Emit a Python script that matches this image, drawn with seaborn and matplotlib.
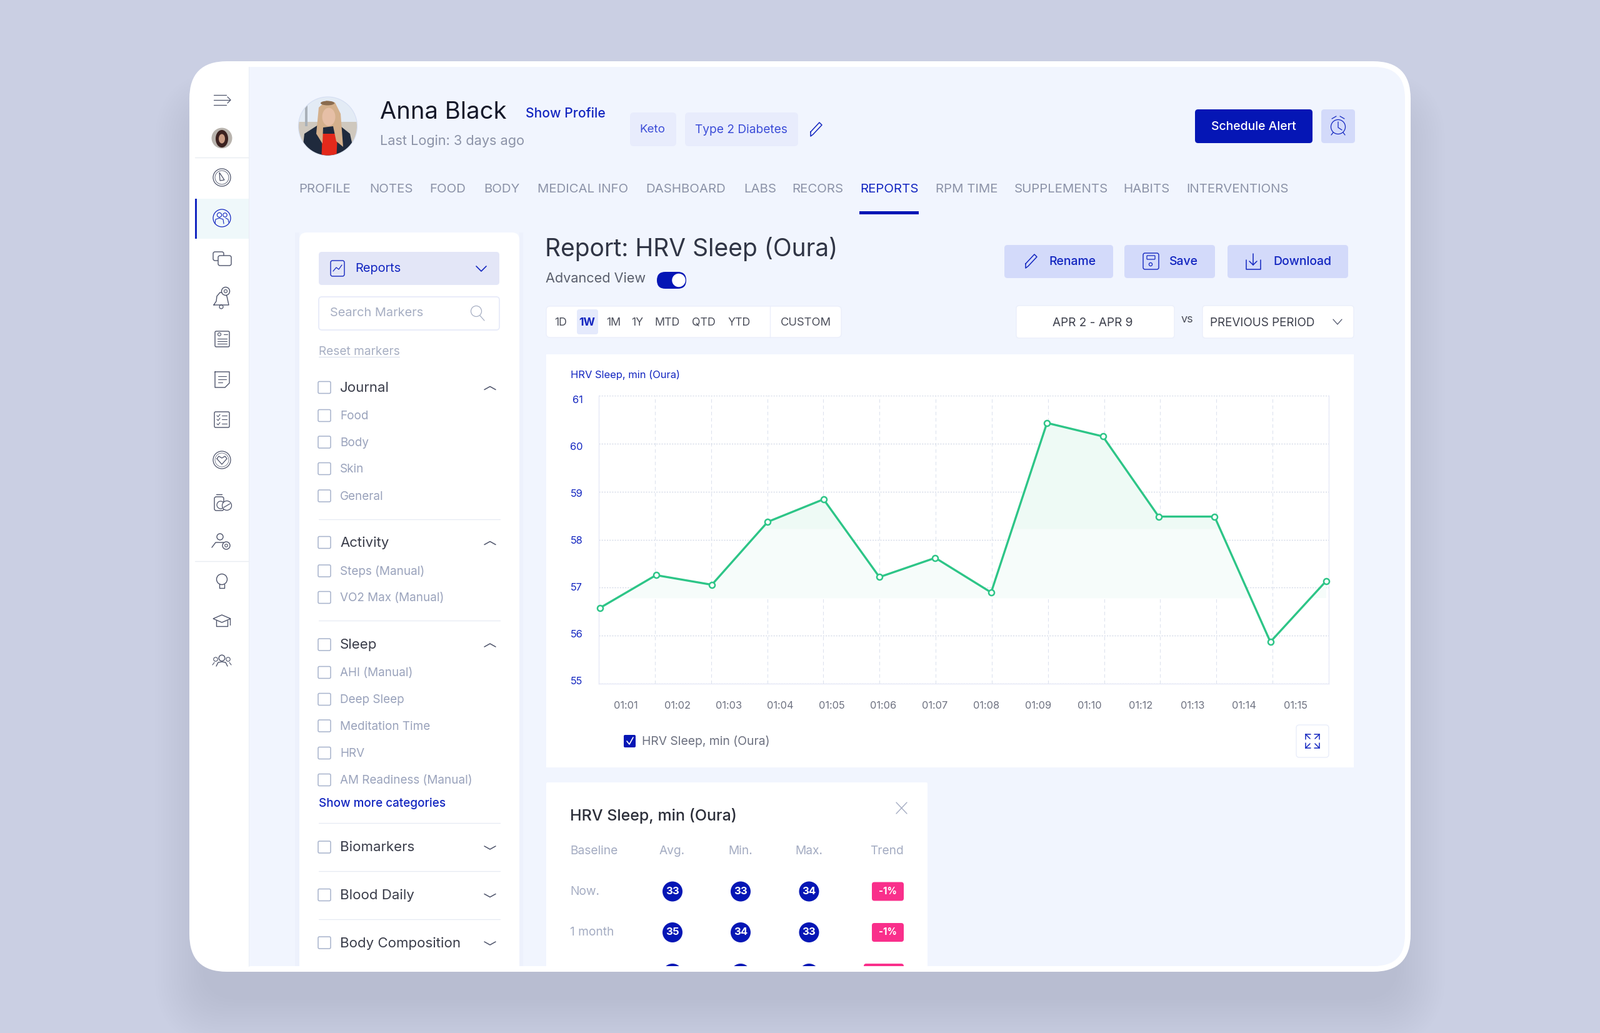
#!/usr/bin/env python3
# -*- coding: utf-8 -*-
# HRV report screen, chart drawn with seaborn and the app around it with patches

import numpy as np
import pandas as pd
import matplotlib
matplotlib.use("Agg")
import matplotlib.pyplot as plt
from matplotlib.patches import FancyBboxPatch, Circle, Ellipse, Polygon, Rectangle
import seaborn as sns

# %% Data

time_labels = ['01:01', '01:02', '01:03', '01:04', '01:05', '01:06', '01:07',
               '01:08', '01:09', '01:10', '01:12', '01:13', '01:14', '01:15']
hrv_values = [56.58, 57.26, 57.06, 58.37, 58.84, 57.22, 57.62,
              56.90, 60.43, 60.15, 58.48, 58.48, 55.87, 57.14]
y_labels = ['55', '56', '57', '58', '59', '60', '61']
fill_base = 56.78
fill_band = 58.22

nav_tabs = ['PROFILE', 'NOTES', 'FOOD', 'BODY', 'MEDICAL INFO', 'DASHBOARD', 'LABS',
            'RECORS', 'REPORTS', 'RPM TIME', 'SUPPLEMENTS', 'HABITS', 'INTERVENTIONS']
nav_x = [478, 591, 687, 774, 860, 1033, 1190, 1267, 1376, 1497, 1623, 1797, 1898]

range_labels = ['1D', '1W', '1M', '1Y', 'MTD', 'QTD', 'YTD', 'CUSTOM']
range_x = [897, 939, 982, 1020, 1068, 1126, 1183, 1289]

marker_rows = [('Journal', 620, 'head'), ('Food', 665, 'item'), ('Body', 707.5, 'item'),
               ('Skin', 750, 'item'), ('General', 793.5, 'item'), ('Activity', 868, 'head'),
               ('Steps (Manual)', 913.5, 'item'), ('VO2 Max (Manual)', 956, 'item'),
               ('Sleep', 1031.5, 'head'), ('AHI (Manual)', 1076, 'item'),
               ('Deep Sleep', 1119, 'item'), ('Meditation Time', 1161.5, 'item'),
               ('HRV', 1205, 'item'), ('AM Readiness (Manual)', 1248, 'item'),
               ('Biomarkers', 1355.5, 'closed'), ('Blood Daily', 1432, 'closed'),
               ('Body Composition', 1508.5, 'closed')]
separators_y = [830.5, 993, 1317, 1394, 1471]

table_columns = ['Avg.', 'Min.', 'Max.', 'Trend']
table_rows = ['Now.', '1 month']
avg_values = [33, 35]
min_values = [33, 34]
max_values = [34, 33]
trend_values = ['-1%', '-1%']

# Colours
BLUE = '#0516B5'
LINK = '#1326C0'
GREEN = '#2DC587'
PAGE = '#F1F5FE'
BACK = '#CACFE3'
SOFT = '#D3DAFA'
GREY = '#8C93A8'
PALE = '#A4ACC2'
DARK = '#3A3D4A'
ICON = '#4C5269'

sns.set_theme(style='white', rc={'font.family': 'Inter'})

fig = plt.figure(figsize=(25.6, 16.53), dpi=100, facecolor=BACK)
ui = fig.add_axes([0, 0, 1, 1])
ui.set_xlim(0, 2560)
ui.set_ylim(1653, 0)
ui.axis('off')


# %% Small drawing helpers

def box(x0, y0, x1, y1, r=6, fc='white', ec='none', lw=1.0, z=2, alpha=None):
    p = FancyBboxPatch((x0 + r, y0 + r), x1 - x0 - 2 * r, y1 - y0 - 2 * r,
                       boxstyle=f'round,pad={r}', fc=fc, ec=ec, lw=lw, zorder=z, alpha=alpha)
    ui.add_patch(p)
    return p


def label(x, y, s, size=13, color=DARK, ha='left', va='center', weight='normal', z=6):
    # centre alignment sits a touch high with this font
    if va == 'center':
        y = y + 1
    return ui.text(x, y, s, fontsize=size, color=color, ha=ha, va=va, weight=weight, zorder=z)


def stroke(xs, ys, color=ICON, lw=1.1, z=5):
    ui.plot(xs, ys, color=color, lw=lw, zorder=z, solid_capstyle='round', solid_joinstyle='round')


def ring(x, y, r, color=ICON, lw=1.1, fc='none', z=5):
    ui.add_patch(Circle((x, y), r, fc=fc, ec=color, lw=lw, zorder=z))


def chevron(x, y, w=8, h=6, color=ICON, lw=1.2, up=False):
    d = -1 if up else 1
    stroke([x - w, x, x + w], [y - d * h / 2, y + d * h / 2, y - d * h / 2], color, lw)


def pencil(x, y, color=LINK):
    stroke([x - 9, x + 5, x + 9, x - 5, x - 9, x - 9],
           [y + 4, y - 11, y - 7, y + 8, y + 11, y + 4], color, 1.1)


# %% Background, shadow and tablet frame

for e in np.linspace(55, -20, 18):
    box(303 - e, 170 - e, 2257 + e, 1620 + e, r=60 + max(e, 0), fc='#6E7488', z=0, alpha=0.0065)

box(303, 98, 2257, 1555, r=60, fc='white', z=1)
# keep the right corners round, the left edge square against the sidebar
box(1000, 107, 2248, 1546, r=50, fc=PAGE, z=1.1)
ui.add_patch(Rectangle((398, 107), 1000, 1439, fc=PAGE, ec='none', zorder=1.1))
clip_area = Rectangle((398, 107), 1850, 1439, transform=ui.transData)

# %% Sidebar

ui.add_patch(Rectangle((315, 317.5), 83, 64.5, fc='#EFF8FA', ec='none', zorder=2))
ui.add_patch(Rectangle((312, 317.5), 3, 64.5, fc=LINK, ec='none', zorder=3))
for sep_y in [252, 898]:
    stroke([312, 398], [sep_y, sep_y], '#E9ECF2', 1.0, z=2)
stroke([398, 398], [107, 1546], '#EBEEF6', 0.8, z=2)

sx = 355
# menu
stroke([342, 362], [152, 152], lw=0.9)
stroke([342, 368], [160, 160], lw=0.9)
stroke([342, 362], [168, 168], lw=0.9)
stroke([364, 369, 364], [155, 160, 165], lw=0.9)
# small avatar
ui.add_patch(Circle((sx, 221), 16.5, fc='#B9B4AE', ec='none', zorder=4))
ui.add_patch(Ellipse((sx, 222), 20, 28, fc='#3B2220', ec='none', zorder=5))
ui.add_patch(Ellipse((sx, 222), 10, 15, fc='#C99B83', ec='none', zorder=6))
# gauge
ring(sx, 284, 14, lw=0.9)
ring(sx, 284, 11, lw=0.6)
ui.add_patch(Polygon([[351, 276], [359, 288], [352, 289]], fc='none', ec=ICON, lw=0.9, zorder=5))
# patients, active
ring(sx, 349, 14, LINK, 0.9)
ring(351, 344, 3.6, LINK, 0.8)
stroke([344, 345, 351, 357, 358], [358, 351, 349, 351, 358], LINK, 0.8)
ring(360, 344, 3.2, LINK, 0.8)
stroke([361, 365, 366], [349, 351, 356], LINK, 0.8)
# chat
box(341, 403, 358, 417, r=3, fc='none', ec=ICON, lw=1.0, z=5)
box(349, 409, 370, 425, r=3, fc='white', ec=ICON, lw=1.0, z=5.1)
# bell with gear
stroke([342, 346, 347, 352, 358, 363, 366, 342], [488, 482, 474, 468, 468, 474, 488, 488], lw=1.0)
ring(361, 466, 6.5, fc='white', lw=1.0)
ring(361, 466, 2.5, lw=0.8)
ring(354, 491, 3, lw=0.9)
# report card
box(344, 530, 367, 555, r=2, fc='none', ec=ICON, lw=1.0, z=5)
for ly in [542, 546, 550]:
    stroke([348, 363], [ly, ly], lw=0.8)
ring(351, 535, 2.5, lw=0.8)
stroke([358, 364], [535, 535], lw=0.8)
# note
stroke([344, 367, 367, 360, 344, 344], [595, 595, 613, 620, 620, 595], lw=1.0)
for ly, lx in [(602, 362), (607, 362), (612, 356)]:
    stroke([349, lx], [ly, ly], lw=0.8)
# checklist
box(343, 659, 367, 684, r=2, fc='none', ec=ICON, lw=1.0, z=5)
for ly in [665, 671, 678]:
    stroke([347, 349, 352], [ly, ly + 2, ly - 2], lw=0.8)
    stroke([355, 363], [ly, ly], lw=0.8)
# heart ring
ring(sx, 736, 14, lw=0.9)
stroke([347, 350, 355, 360, 363, 355, 347], [734, 730, 733, 730, 734, 743, 734], lw=0.9)
ring(sx, 736, 11, lw=0.5)
# pills
box(343, 795, 358, 817, r=3, fc='none', ec=ICON, lw=1.0, z=5)
stroke([346, 355], [791, 791], lw=1.0)
ring(353, 808, 6, fc='white', lw=0.9)
ring(363, 809, 7.5, fc='white', lw=0.9)
stroke([358, 368], [812, 806], lw=0.9)
# user settings
ring(352, 859, 5, lw=1.0)
stroke([339, 345, 358], [876, 868, 868], lw=1.0)
ring(362, 873, 6, fc='white', lw=1.0)
ring(362, 873, 2.3, lw=0.8)
# bulb
ring(sx, 927, 8.5, lw=1.0)
stroke([351, 351, 359, 359], [935, 941, 941, 935], lw=1.0)
# cap
ui.add_patch(Polygon([[341, 990], [355, 984], [369, 990], [355, 996]], fc='none', ec=ICON, lw=1.0, zorder=5))
stroke([346, 346, 364, 364], [993, 1002, 1002, 993], lw=1.0)
stroke([368, 368], [990, 1000], lw=0.9)
# group
ring(sx, 1053, 4.8, lw=1.0)
stroke([346, 349, 355, 361, 364], [1066, 1060, 1059, 1060, 1066], lw=1.0)
ring(345, 1055, 3.2, lw=0.8)
ring(365, 1055, 3.2, lw=0.8)
stroke([340, 343], [1064, 1060], lw=0.8)
stroke([370, 367], [1064, 1060], lw=0.8)

# %% Header

avatar = Circle((524.5, 202), 46.5, transform=ui.transData)
ui.add_patch(Circle((524.5, 202), 47, fc='#E3EBF5', ec='#D5DEF2', lw=0.8, zorder=2))
avatar_parts = [
    Rectangle((478, 195), 95, 60, fc='#CFC8BE', ec='none', zorder=3),
    Rectangle((488, 168), 4, 34, fc='#A9B0B8', ec='none', zorder=3),
    Polygon([[482, 260], [487, 214], [512, 198], [540, 198], [560, 214], [570, 260]],
            fc='#1F2A3D', ec='none', zorder=4),
    Polygon([[514, 260], [516, 214], [540, 214], [538, 260]], fc='#E3291B', ec='none', zorder=5),
    Polygon([[510, 172], [522, 161], [536, 164], [545, 182], [549, 235], [538, 226], [533, 202],
             [517, 204], [516, 230], [506, 214]], fc='#D4B08C', ec='none', zorder=6),
    Ellipse((526, 187), 21, 29, fc='#E6BFA6', ec='none', zorder=7),
    Ellipse((524, 165), 22, 7, fc='#8A6B4E', ec='none', zorder=7),
]
for part in avatar_parts:
    ui.add_patch(part)
    part.set_clip_path(avatar)

label(608, 190.5, 'Anna Black', 27.5, '#161929', va='baseline')
label(841, 188, 'Show Profile', 15.2, LINK, va='baseline', weight='medium')
label(608, 232.5, 'Last Login: 3 days ago', 15.6, GREY, va='baseline')

box(1008, 180, 1082, 234, r=6, fc='#E8ECFC')
label(1044, 207, 'Keto', 13.5, '#3D4ED8', ha='center')
box(1096, 180, 1277, 234, r=6, fc='#E8ECFC')
label(1186, 207, 'Type 2 Diabetes', 13.8, '#3D4ED8', ha='center')
pencil(1306, 207)

box(1912, 175, 2100, 229, r=5, fc=BLUE)
label(2006, 202, 'Schedule Alert', 14, 'white', ha='center', weight='medium')
box(2114, 175, 2168, 229, r=5, fc=SOFT)
ring(2141, 203, 11.5, LINK, 0.9)
stroke([2141, 2141, 2147], [195, 204, 208], LINK, 0.9)
stroke([2131, 2138], [190, 186], LINK, 0.9)
stroke([2144, 2151], [186, 190], LINK, 0.9)
stroke([2133, 2130], [212, 216], LINK, 0.9)
stroke([2149, 2152], [212, 216], LINK, 0.9)

for tab, tx in zip(nav_tabs, nav_x):
    active = tab == 'REPORTS'
    label(tx, 308, tab, 14.7, LINK if active else GREY, va='baseline')
ui.add_patch(Rectangle((1375, 338), 95, 5, fc=BLUE, ec='none', zorder=3))

# %% Left panel

ui.add_patch(Rectangle((472, 372), 7, 1174, fc='#EDF1FC', ec='none', zorder=1.5))
ui.add_patch(Rectangle((831, 372), 6, 1174, fc='#EDF1FC', ec='none', zorder=1.5))
panel = box(479, 372, 831, 1570, r=12, fc='white', z=2)
panel.set_clip_path(clip_area)

box(510, 403, 799, 456, r=5, fc='#E3E6F7', z=3)
box(529, 417, 551, 442, r=3, fc='none', ec=LINK, lw=1.0, z=5)
stroke([533, 538, 542, 547], [434, 428, 431, 424], LINK, 0.9)
label(568, 429, 'Reports', 14.4, LINK)
chevron(770, 430, 8, 8, LINK)

box(510, 475, 799, 528, r=5, fc='white', ec='#E7EBF9', lw=1.3, z=3)
label(528, 500.5, 'Search Markers', 14.4, '#A7AFC3')
ring(762, 498, 8.5, '#A7AFC3', 0.9)
stroke([768, 775], [505, 513], '#A7AFC3', 0.9)

label(510, 561.5, 'Reset markers', 13.7, '#A7AFC3')
stroke([510, 639], [571, 571], '#D9DEEC', 0.8)

for name, ry, kind in marker_rows:
    box(509, ry - 9.5, 529, ry + 9.5, r=2, fc='white', ec='#A7B3CC', lw=1.1, z=4)
    if kind == 'item':
        label(544, ry, name, 13.6, '#9AA3BC')
    else:
        label(544, ry, name, 16, DARK)
        chevron(784, ry + 1, 9, 5, ICON, 1.1, up=kind == 'head')
for sep_y in separators_y:
    stroke([510, 800], [sep_y, sep_y], '#E6EAF3', 0.9, z=3)
label(510, 1285, 'Show more categories', 13.6, LINK, weight='medium')

# %% Report heading and toolbar

label(872, 410, 'Report: HRV Sleep (Oura)', 28, '#303545', va='baseline')
label(873, 452, 'Advanced View', 15.6, '#5A5F6D', va='baseline')
box(1051, 435, 1098, 462, r=13.5, fc=BLUE, z=3)
ring(1086, 448.5, 10, color='white', fc='white', z=4)

for x0, x1, text_x, name in [(1607, 1781, 1678, 'Rename'), (1799, 1944, 1871, 'Save'),
                             (1964, 2157, 2037, 'Download')]:
    box(x0, 392, x1, 445, r=5, fc=SOFT)
    label(text_x, 418, name, 14, LINK, weight='medium')
pencil(1650, 418)
box(1829, 405, 1854, 431, r=3, fc='none', ec=LINK, lw=1.0, z=5)
box(1835, 409, 1848, 415, r=1, fc='none', ec=LINK, lw=0.9, z=5)
ring(1841, 423, 2.6, LINK, 0.9)
stroke([2005, 2005], [406, 424], LINK, 1.1)
stroke([1999, 2005, 2011], [418, 424, 418], LINK, 1.1)
stroke([1994, 1994, 2017, 2017], [416, 431, 431, 416], LINK, 1.1)

box(874, 490, 1346, 540, r=6, fc='white', ec='#EBEFFB', lw=1.0)
stroke([1232, 1232], [490, 540], '#EBEFFB', 1.0)
box(923, 495, 957, 535, r=4, fc='#E5EAFC', z=3)
for name, rx in zip(range_labels, range_x):
    active = name == '1W'
    label(rx, 515.5, name, 13.2 if name == 'CUSTOM' else 12.8, LINK if active else '#4D505C', ha='center',
          weight='bold' if active else 'normal')

box(1626, 489, 1879, 541, r=5, fc='white', ec='#EBEFFB', lw=1.0)
label(1748, 515.5, 'APR 2 - APR 9', 13.7, '#3F424E', ha='center')
label(1899.5, 510, 'vs', 13, '#4D505C', ha='center')
box(1924, 489, 2166, 541, r=5, fc='white', ec='#EBEFFB', lw=1.0)
label(1936, 515.5, 'PREVIOUS PERIOD', 13.6, '#3F424E')
chevron(2140, 515, 7, 8, ICON, 0.9)

# %% Chart card

ui.add_patch(Rectangle((874, 566.5), 1292, 661.5, fc='white', ec='none', zorder=2))
label(913, 599, 'HRV Sleep, min (Oura)', 11.9, LINK)

ax = fig.add_axes([958 / 2560, 1 - 1094 / 1653, (2126 - 958) / 2560, (1094 - 633) / 1653], zorder=3)
ax.patch.set_alpha(0)

hrv_df = pd.DataFrame({'pos': np.arange(len(hrv_values)), 'hrv': hrv_values})
pos = hrv_df['pos'].to_numpy()
vals = hrv_df['hrv'].to_numpy()

# two soft bands under the line, as in the app
ax.fill_between(pos, fill_base, vals, where=vals >= fill_base, interpolate=True,
                color='#F6FCFA', lw=0, zorder=1)
ax.fill_between(pos, fill_band, vals, where=vals >= fill_band, interpolate=True,
                color='#EEFAF5', lw=0, zorder=1.1)

sns.lineplot(data=hrv_df, x='pos', y='hrv', ax=ax, color=GREEN, linewidth=2.4, marker='o',
             markersize=6.5, markerfacecolor='white', markeredgecolor=GREEN, markeredgewidth=1.8,
             zorder=4, clip_on=False)

x_lo, x_hi = -0.025, 13.045
ax.set_xlim(x_lo, x_hi)
ax.set_ylim(55, 61)
ax.set_xlabel('')
ax.set_ylabel('')

# labels sit on their own even spacing, the grid on another
ax.set_xticks(np.linspace(0.46, 12.45, len(time_labels)), time_labels)
ax.set_yticks(np.linspace(55.06, 60.92, len(y_labels)), y_labels)
ax.set_xticks(np.linspace(x_lo, x_hi, len(hrv_values)), minor=True)
ax.set_yticks(np.arange(55, 62), minor=True)
ax.tick_params(which='both', length=0)
ax.tick_params(axis='x', which='major', labelsize=11.8, labelcolor='#6D7180', pad=20)
ax.tick_params(axis='y', which='major', labelsize=11.8, labelcolor=LINK, pad=18.5)
ax.grid(False)
ax.grid(which='minor', axis='x', color='#DDE3EE', lw=0.8, ls=(0, (5, 4)), zorder=0)
ax.grid(which='minor', axis='y', color='#D5DBE8', lw=1.0, ls=(0, (1.5, 1.5)), zorder=0)
ax.spines['top'].set_visible(False)
for side in ['left', 'right', 'bottom']:
    ax.spines[side].set_color('#E6E9F7')
    ax.spines[side].set_linewidth(1.0)

# legend row
box(998, 1176, 1017, 1196, r=2, fc=BLUE, z=4)
stroke([1003, 1007, 1013], [1186, 1191, 1180], 'white', 1.2)
label(1027, 1185, 'HRV Sleep, min (Oura)', 13.9, '#6D7180')

box(2074, 1160, 2126, 1212, r=5, fc='white', ec='#E9EDFA', lw=1.0)
for dx, dy in [(-1, -1), (1, -1), (-1, 1), (1, 1)]:
    cx, cy = 2100 + dx * 11, 1186 + dy * 11
    stroke([cx, cx - dx * 8], [cy, cy], LINK, 1.1)
    stroke([cx, cx], [cy, cy - dy * 8], LINK, 1.1)
    stroke([cx, cx - dx * 7], [cy, cy - dy * 7], LINK, 1.1)

# %% Stats card

stats = box(874, 1252, 1484, 1600, r=2, fc='white')
stats.set_clip_path(clip_area)
label(912.5, 1304, 'HRV Sleep, min (Oura)', 18, '#2C2F3A', weight='medium')
stroke([1434, 1451], [1284, 1302], '#A4ACC2', 1.0)
stroke([1451, 1434], [1284, 1302], '#A4ACC2', 1.0)

column_x = [1075, 1185, 1294.5, 1419]
label(912.5, 1361, 'Baseline', 13.8, PALE)
for name, cx in zip(table_columns, column_x):
    label(cx, 1361, name, 13.8, PALE, ha='center')

row_y = [1426.5, 1492]
for i, (name, ry) in enumerate(zip(table_rows, row_y)):
    label(912.5, ry - 1, name, 13.8, PALE)
    for cx, series in zip(column_x[:3], [avg_values, min_values, max_values]):
        ui.add_patch(Circle((cx + (cx == 1075), ry), 16, fc=BLUE, ec='none', zorder=4))
        label(cx + (cx == 1075), ry - 1, str(series[i]), 12, 'white', ha='center', weight='bold')
    box(1395, ry - 15, 1446, ry + 15, r=4, fc='#F92F8B', z=4)
    label(1420.5, ry - 1, trend_values[i], 11, 'white', ha='center', weight='bold')

# the next row is cut off by the bottom of the screen
for cx in column_x[:3]:
    peek = Circle((cx + (cx == 1075), 1558), 16, fc=BLUE, ec='none', zorder=4)
    ui.add_patch(peek)
    peek.set_clip_path(clip_area)
peek = box(1382, 1542, 1446, 1572, r=4, fc='#F92F8B', z=4)
peek.set_clip_path(clip_area)

fig.savefig('out.png', dpi=100, facecolor=BACK)
